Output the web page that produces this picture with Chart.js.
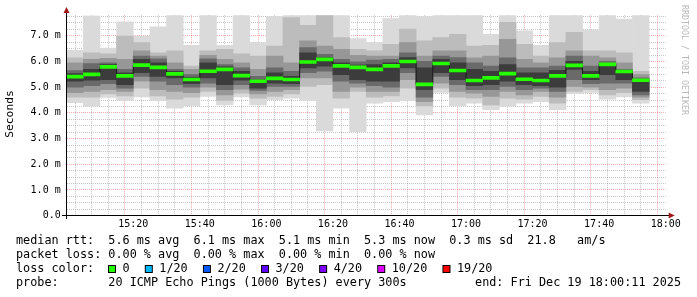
<!DOCTYPE html>
<html>
<head>
<meta charset="utf-8">
<script src="https://cdn.jsdelivr.net/npm/chart.js@4.4.1/dist/chart.umd.min.js"></script>
<style>
  html, body { margin: 0; padding: 0; background: #ffffff; }
  canvas { display: block; }
</style>
</head>
<body>
<canvas id="c" width="697" height="297"></canvas>
<script>
// ---------- data ----------
const times = ['15:00','15:05','15:10','15:15','15:20','15:25','15:30','15:35','15:40','15:45',
               '15:50','15:55','16:00','16:05','16:10','16:15','16:20','16:25','16:30','16:35',
               '16:40','16:45','16:50','16:55','17:00','17:05','17:10','17:15','17:20','17:25',
               '17:30','17:35','17:40','17:45','17:50'];
const median = [5.41,5.50,5.79,5.44,5.86,5.77,5.52,5.30,5.62,5.69,
                5.45,5.23,5.34,5.30,5.98,6.08,5.83,5.77,5.69,5.83,
                6.00,5.11,5.92,5.65,5.26,5.36,5.53,5.31,5.26,5.44,
                5.85,5.44,5.89,5.61,5.27];
// smoke layers: 1 = outermost (lightest) ... 5 = innermost (darkest)
const lo1 = [4.40,4.25,4.60,4.48,4.62,4.48,4.18,4.27,4.64,4.31,4.62,4.31,4.51,4.57,4.48,3.30,4.18,3.27,4.38,4.44,4.48,3.92,4.80,4.27,4.38,4.12,4.25,4.38,4.44,4.12,4.75,4.80,4.53,4.62,4.38];
const hi1 = [6.43,7.78,6.52,7.54,6.99,7.35,7.84,6.63,7.84,6.63,7.84,6.73,7.75,7.84,7.84,7.84,7.84,6.89,6.73,7.67,7.84,7.75,7.84,7.84,7.84,7.06,7.84,7.19,6.63,7.84,7.84,7.23,7.84,7.65,7.84];
const lo2 = [4.61,4.61,4.74,4.66,4.96,4.66,4.53,4.61,4.83,4.48,4.77,4.57,4.64,4.74,5.03,5.10,4.57,4.83,4.61,4.66,4.96,4.27,4.96,4.61,4.57,4.31,4.57,4.53,4.64,4.38,4.83,4.90,4.70,4.79,4.51];
const hi2 = [6.14,6.34,6.30,6.99,6.73,6.34,6.41,5.82,6.41,6.47,6.30,6.21,6.60,7.71,7.41,7.84,6.93,6.47,6.41,6.67,7.26,6.80,6.93,7.06,6.60,6.63,7.52,6.67,6.21,6.73,7.13,6.41,6.41,6.34,5.62];
const lo3 = [4.79,4.83,4.90,4.83,5.23,4.90,4.83,4.79,5.00,4.70,4.92,4.74,4.83,4.90,5.36,5.36,4.83,5.00,4.83,4.83,5.29,4.44,5.16,4.83,4.77,4.64,4.83,4.70,4.83,4.61,5.03,5.00,4.90,4.96,4.61];
const hi3 = [5.95,6.08,6.12,6.08,6.41,6.21,5.95,5.69,6.24,6.08,5.95,5.69,6.21,5.95,6.80,6.60,6.47,6.24,6.21,6.21,6.73,6.21,6.41,6.41,6.14,6.21,6.86,6.08,5.95,6.14,6.41,6.21,6.14,5.95,5.49];
const lo4 = [5.00,5.06,5.14,4.96,5.42,5.23,5.10,5.00,5.16,4.90,5.10,4.87,5.03,5.03,5.56,5.62,5.23,5.16,5.06,5.00,5.56,4.61,5.42,5.10,4.90,4.90,5.03,4.90,4.96,4.83,5.29,5.14,5.16,5.16,4.70];
const hi4 = [5.65,5.92,5.95,5.69,6.21,6.10,5.69,5.49,6.10,5.88,5.75,5.42,5.75,5.62,6.54,6.28,6.08,5.99,6.05,6.08,6.34,6.01,6.21,6.15,5.95,5.82,6.14,5.75,5.75,5.82,6.21,5.82,6.01,5.69,5.36];
const lo5 = [5.23,5.27,5.29,5.10,5.56,5.42,5.36,5.14,5.36,5.10,5.27,4.96,5.16,5.14,5.75,5.82,5.49,5.29,5.23,5.23,5.75,4.90,5.56,5.29,5.06,5.10,5.23,5.10,5.06,5.00,5.69,5.29,5.49,5.29,4.83];
const hi5 = [5.53,5.69,5.88,5.56,6.08,5.95,5.62,5.38,5.95,5.79,5.62,5.29,5.56,5.42,6.34,6.15,5.95,5.86,5.88,5.95,6.15,5.75,6.08,5.95,5.69,5.62,5.88,5.56,5.56,5.66,6.01,5.62,5.88,5.56,5.27];

const xTickLabels = ['15:20','15:40','16:00','16:20','16:40','17:00','17:20','17:40','18:00'];
const yTickLabels = ['0.0','1.0 m','2.0 m','3.0 m','4.0 m','5.0 m','6.0 m','7.0 m'];

const rttStats  = ['5.6','6.1','5.1','5.3','0.3'];
const rttAmS    = '21.8';
const lossStats = ['0.00','0.00','0.00','0.00'];
const lossLabels = ['0','1/20','2/20','3/20','4/20','10/20','19/20'];
const lossColors = ['#26ff00','#00b8ff','#0059ff','#5e00ff','#7e00ff','#dd00ff','#ff0000'];
const probeText = '20 ICMP Echo Pings (1000 Bytes) every 300s';
const endText = 'end: Fri Dec 19 18:00:11 2025';

// ---------- helpers ----------
const STEP = 5;               // minutes per bar (300 s)
const toMin = (t) => { const [h, m] = t.split(':').map(Number); return h * 60 + m; };
const T0 = toMin(times[0]);
const xs = times.map(t => toMin(t) - T0 + STEP / 2);   // bar centers
const X_MAX = (toMin(xTickLabels[xTickLabels.length - 1]) - T0);
const Y_MAX = 7.8;

const MONO = '"DejaVu Sans Mono", "Liberation Mono", monospace';
const MINOR = 'rgba(140,140,140,0.5)';
const MAJOR = 'rgba(235,0,0,0.32)';
const NONE = 'rgba(0,0,0,0)';

const layerColors = ['#dadada', '#bcbcbc', '#979797', '#6a6a6a', '#3c3c3c'];
const los = [lo1, lo2, lo3, lo4, lo5];
const his = [hi1, hi2, hi3, hi4, hi5];

const greenHalf = 1.5 / 25.7; // half of a 3px thick line, in value units

const datasets = [];
datasets.push({
  type: 'bar', label: 'median', order: 0, clip: 0,
  data: xs.map((x, i) => ({ x, y: [median[i] - greenHalf, median[i] + greenHalf] })),
  backgroundColor: lossColors[0], borderWidth: 0,
  barPercentage: 1, categoryPercentage: 1, grouped: false
});
datasets.push({
  type: 'line', label: 'median step', order: 1, clip: 0,
  data: xs.map((x, i) => ({ x, y: median[i] })),
  stepped: 'middle', borderColor: '#1a1a1a', borderWidth: 1,
  pointRadius: 0, fill: false
});
for (let k = 4; k >= 0; k--) {
  datasets.push({
    type: 'bar', label: 'smoke' + (k + 1), order: 2 + (4 - k), clip: 0,
    data: xs.map((x, i) => ({ x, y: [los[k][i], his[k][i]] })),
    backgroundColor: layerColors[k], borderWidth: 0,
    barPercentage: 1, categoryPercentage: 1, grouped: false
  });
}

const gridColorX = (c) => {
  if (!c || !c.tick) return NONE;
  const v = c.tick.value;
  return v === 0 ? NONE : (v % 20 === 0 ? MAJOR : MINOR);
};
const gridColorY = (c) => {
  if (!c || !c.tick) return NONE;
  const v = c.tick.value;
  return v === 0 ? NONE : (Number.isInteger(v) ? MAJOR : MINOR);
};

// ---------- decorations ----------
const deco = {
  id: 'deco',
  afterDraw(chart) {
    const ctx = chart.ctx;
    const a = chart.chartArea;
    const y0 = Math.floor(chart.scales.y.getPixelForValue(0));
    const x0 = Math.floor(chart.scales.x.getPixelForValue(0));
    ctx.save();
    // axes
    ctx.fillStyle = '#000';
    ctx.fillRect(x0 - 4, y0, a.right - x0 + 8, 1);
    ctx.fillRect(x0, 9, 1, y0 - 9 + 4);
    // arrows
    ctx.fillStyle = '#a01818';
    ctx.beginPath();
    ctx.moveTo(x0 + 0.5, 7); ctx.lineTo(x0 + 3.5, 13); ctx.lineTo(x0 - 2.5, 13); ctx.closePath(); ctx.fill();
    ctx.beginPath();
    ctx.moveTo(a.right + 9, y0 + 0.5); ctx.lineTo(a.right + 3, y0 - 2.5); ctx.lineTo(a.right + 3, y0 + 3.5); ctx.closePath(); ctx.fill();

    // y title
    ctx.fillStyle = '#000';
    ctx.font = '11.3px ' + MONO;
    ctx.textAlign = 'center';
    ctx.textBaseline = 'middle';
    ctx.save();
    ctx.translate(10.5, 114);
    ctx.rotate(-Math.PI / 2);
    ctx.fillText('Seconds', 0, 0);
    ctx.restore();

    // watermark
    ctx.save();
    ctx.fillStyle = '#b8b8b8';
    ctx.font = '8.3px ' + MONO;
    ctx.textAlign = 'left';
    ctx.translate(684, 5);
    ctx.rotate(Math.PI / 2);
    ctx.fillText('RRDTOOL / TOBI OETIKER', 0, 0);
    ctx.restore();

    // legend
    ctx.font = '11.8px ' + MONO;
    ctx.textAlign = 'left';
    ctx.textBaseline = 'middle';
    ctx.fillStyle = '#000';
    const l1 = 'median rtt:  ' + rttStats[0] + ' ms avg  ' + rttStats[1] + ' ms max  ' +
               rttStats[2] + ' ms min  ' + rttStats[3] + ' ms now  ' + rttStats[4] + ' ms sd  ' +
               rttAmS + '   am/s';
    const l2 = 'packet loss: ' + lossStats[0] + ' % avg  ' + lossStats[1] + ' % max  ' +
               lossStats[2] + ' % min  ' + lossStats[3] + ' % now';
    ctx.fillText(l1, 16, 241);
    ctx.fillText(l2, 16, 255);
    ctx.fillText('loss color:', 16, 269);
    ctx.fillText('probe:       ' + probeText, 16, 283);
    ctx.textAlign = 'right';
    ctx.fillText(endText, 681, 283);
    ctx.textAlign = 'left';
    let bx = 108;
    lossLabels.forEach((lab, i) => {
      ctx.fillStyle = '#000';
      ctx.fillRect(bx, 265, 8, 8);
      ctx.fillStyle = lossColors[i];
      ctx.fillRect(bx + 1, 266, 6, 6);
      ctx.fillStyle = '#000';
      const tx = bx + 14.5;
      ctx.fillText(lab, tx, 269);
      bx = tx + ctx.measureText(lab).width + 15.2;
    });
    ctx.restore();
  }
};

// ---------- chart ----------
new Chart(document.getElementById('c'), {
  type: 'bar',
  data: { datasets },
  options: {
    responsive: false,
    animation: false,
    events: [],
    layout: { padding: { top: 15.2, right: 31.3, left: 0, bottom: 0 } },
    plugins: { legend: { display: false }, tooltip: { enabled: false } },
    scales: {
      x: {
        type: 'linear', position: 'bottom', min: 0, max: X_MAX, offset: false, z: 1,
        afterFit: (s) => { s.height = 297 - 215.7; },
        ticks: {
          stepSize: STEP, autoSkip: false, maxRotation: 0, padding: 3,
          color: '#000', font: { family: MONO, size: 10 },
          callback: (v) => (v > 0 && v % 20 === 0) ? xTickLabels[v / 20 - 1] : ''
        },
        grid: { drawTicks: false, lineWidth: 1, color: gridColorX },
        border: { display: false, color: NONE, dash: [1, 1] }
      },
      y: {
        type: 'linear', min: 0, max: Y_MAX, z: 1,
        afterFit: (s) => { s.width = 66.7; },
        afterBuildTicks: (s) => {
          const t = [];
          for (let i = 0; i * 0.25 <= Y_MAX - 0.01; i++) t.push({ value: i * 0.25 });
          s.ticks = t;
        },
        ticks: {
          autoSkip: false, padding: 6,
          color: '#000', font: { family: MONO, size: 10 },
          callback: (v) => Number.isInteger(v) ? yTickLabels[v] : ''
        },
        grid: { drawTicks: false, lineWidth: 1, color: gridColorY },
        border: { display: false, color: NONE, dash: [1, 1] }
      }
    }
  },
  plugins: [deco]
});
</script>
</body>
</html>
